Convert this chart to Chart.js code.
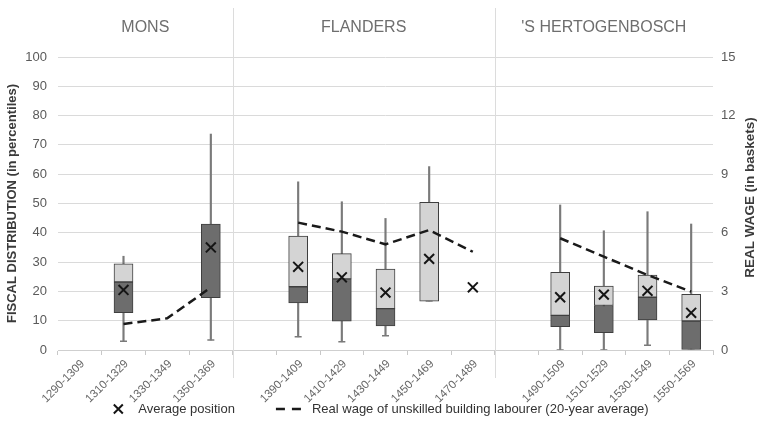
<!DOCTYPE html>
<html>
<head>
<meta charset="utf-8">
<script src="https://cdn.jsdelivr.net/npm/chart.js@4/dist/chart.umd.min.js"></script>
<style>
  html, body { margin: 0; padding: 0; background: #ffffff; }
  canvas { display: block; }
</style>
</head>
<body>
<canvas id="chart" width="761" height="437"></canvas>
<script>
// Twenty-year periods, grouped by region (empty slot opens each later region)
const periods = [
  '1290-1309', '1310-1329', '1330-1349', '1350-1369',
  '', '1390-1409', '1410-1429', '1430-1449', '1450-1469', '1470-1489',
  '', '1490-1509', '1510-1529', '1530-1549', '1550-1569'
];
const groupNames = ['MONS', 'FLANDERS', "'S HERTOGENBOSCH"];
const groupSizes = [4, 6, 5];

// Fiscal distribution of builders (percentiles)
const minPos    = [null, 3.0, null, 3.4,  null, 4.5, 2.8, 4.9, 16.7, null,  null, 0.0, 0.0, 1.6, 0.0];
const q1Pos     = [null, 12.7, null, 17.9, null, 16.1, 9.8, 8.2, 16.7, null,  null, 8.0, 5.9, 10.3, 0.0];
const medianPos = [null, 23.2, null, 43.0, null, 21.6, 24.3, 14.1, 16.7, null, null, 11.8, 15.2, 18.0, 9.9];
const q3Pos     = [null, 29.4, null, 43.0, null, 38.9, 32.9, 27.6, 50.4, null, null, 26.5, 21.8, 25.6, 19.0];
const maxPos    = [null, 32.0, null, 73.7, null, 57.4, 50.6, 44.9, 62.6, null, null, 49.5, 40.7, 47.2, 43.0];
const meanPos   = [null, 20.5, null, 35.0, null, 28.4, 24.8, 19.6, 31.1, 21.4, null, 18.0, 18.9, 20.2, 12.7];

// Real wage of unskilled building labourer, 20-year average (baskets)
const realWage  = [null, 1.33, 1.62, 3.2, null, 6.52, 6.06, 5.41, 6.14, 5.03, null, 5.72, 4.78, 3.84, 2.99];

const FONT = "'Liberation Sans', Arial, Helvetica, sans-serif";
Chart.defaults.font.family = FONT;

const lowerBox = q1Pos.map((v, i) =>
  (v == null || medianPos[i] == null || medianPos[i] === v) ? null : [v, medianPos[i]]);
const upperBox = medianPos.map((v, i) =>
  (v == null || q3Pos[i] == null || q3Pos[i] === v) ? null : [v, q3Pos[i]]);
const whiskers = minPos.map((v, i) => (v == null ? null : [v, maxPos[i]]));

const DARK_BOX = '#6d6d6d';
const LIGHT_BOX = '#d4d4d4';
const BOX_EDGE = '#3f3f3f';
const WHISKER = '#7a7a7a';

// Region separators, region titles, right-hand axis title and legend
const panelPlugin = {
  id: 'panels',
  afterDraw(chart) {
    const ctx = chart.ctx;
    const x = chart.scales.x;
    const area = chart.chartArea;
    ctx.save();

    // separators and titles
    let start = 0;
    groupNames.forEach((name, g) => {
      const end = start + groupSizes[g] - 1;
      const step = x.getPixelForValue(1) - x.getPixelForValue(0);
      const left = x.getPixelForValue(start) - step / 2;
      const right = x.getPixelForValue(end) + step / 2;
      if (g > 0) {
        ctx.strokeStyle = '#dcdcdc';
        ctx.lineWidth = 1;
        ctx.beginPath();
        ctx.moveTo(Math.round(left) + 0.5, 8);
        ctx.lineTo(Math.round(left) + 0.5, 378);
        ctx.stroke();
      }
      ctx.fillStyle = '#6e6e6e';
      ctx.font = '16px ' + FONT;
      ctx.textAlign = 'center';
      ctx.textBaseline = 'middle';
      ctx.fillText(name, (left + right) / 2, 28);
      start = end + 1;
    });

    // right axis title, reading upwards
    ctx.save();
    ctx.translate(750, (area.top + area.bottom) / 2 - 6);
    ctx.rotate(-Math.PI / 2);
    ctx.fillStyle = '#3a3a3a';
    ctx.font = 'bold 13.5px ' + FONT;
    ctx.textAlign = 'center';
    ctx.textBaseline = 'middle';
    ctx.fillText('REAL WAGE (in baskets)', 0, 0);
    ctx.restore();

    // legend
    const meanDs = chart.data.datasets.find(d => d.id === 'mean');
    const wageDs = chart.data.datasets.find(d => d.id === 'wage');
    const items = [
      { text: meanDs.label, sym: 12, gap: 14 },
      { text: wageDs.label, sym: 25, gap: 11 }
    ];
    ctx.font = '13px ' + FONT;
    const itemGap = 41;
    let total = 0;
    items.forEach((it, i) => {
      it.w = ctx.measureText(it.text).width;
      total += it.sym + it.gap + it.w + (i ? itemGap : 0);
    });
    let cx = chart.width / 2 - total / 2;
    const ly = 409;
    items.forEach((it, i) => {
      if (i) cx += itemGap;
      ctx.strokeStyle = i === 0 ? meanDs.borderColor : wageDs.borderColor;
      if (i === 0) {
        ctx.lineWidth = meanDs.pointBorderWidth;
        ctx.setLineDash([]);
        const r = 4.5;
        const mx = cx + it.sym / 2;
        ctx.beginPath();
        ctx.moveTo(mx - r, ly - r); ctx.lineTo(mx + r, ly + r);
        ctx.moveTo(mx + r, ly - r); ctx.lineTo(mx - r, ly + r);
        ctx.stroke();
      } else {
        ctx.lineWidth = wageDs.borderWidth;
        ctx.setLineDash([9, 7]);
        ctx.beginPath();
        ctx.moveTo(cx, ly); ctx.lineTo(cx + it.sym, ly);
        ctx.stroke();
        ctx.setLineDash([]);
      }
      ctx.fillStyle = '#333333';
      ctx.textAlign = 'left';
      ctx.textBaseline = 'middle';
      ctx.fillText(it.text, cx + it.sym + it.gap, ly);
      cx += it.sym + it.gap + it.w;
    });

    ctx.restore();
  }
};

new Chart(document.getElementById('chart'), {
  type: 'bar',
  data: {
    labels: periods,
    datasets: [
      {
        id: 'mean',
        type: 'line',
        label: 'Average position',
        data: meanPos,
        showLine: false,
        pointStyle: 'crossRot',
        pointRadius: 7,
        pointBorderWidth: 2,
        borderColor: '#151515',
        backgroundColor: '#151515',
        yAxisID: 'y',
        order: 0
      },
      {
        id: 'wage',
        type: 'line',
        label: 'Real wage of unskilled building labourer (20-year average)',
        data: realWage,
        borderColor: '#1a1a1a',
        borderWidth: 2.5,
        borderDash: [9, 5],
        pointRadius: 0,
        spanGaps: false,
        tension: 0,
        fill: false,
        yAxisID: 'y2',
        order: 1
      },
      {
        id: 'minCap',
        type: 'line',
        label: 'Minimum',
        data: minPos,
        showLine: false,
        pointStyle: 'line',
        pointRadius: 3.5,
        pointBorderWidth: 1.5,
        borderColor: WHISKER,
        yAxisID: 'y',
        order: 2
      },
      {
        label: 'Median to third quartile',
        data: upperBox,
        backgroundColor: LIGHT_BOX,
        borderColor: BOX_EDGE,
        borderWidth: 1,
        borderSkipped: false,
        barThickness: 19,
        grouped: false,
        yAxisID: 'y',
        order: 3
      },
      {
        label: 'First quartile to median',
        data: lowerBox,
        backgroundColor: DARK_BOX,
        borderColor: BOX_EDGE,
        borderWidth: 1,
        borderSkipped: false,
        barThickness: 19,
        grouped: false,
        yAxisID: 'y',
        order: 3
      },
      {
        label: 'Range',
        data: whiskers,
        backgroundColor: WHISKER,
        borderWidth: 0,
        barThickness: 1.5,
        grouped: false,
        yAxisID: 'y',
        order: 4
      }
    ]
  },
  options: {
    responsive: false,
    animation: false,
    devicePixelRatio: 1,
    layout: { padding: { top: 57, bottom: 27, left: 0, right: 0 } },
    plugins: {
      legend: { display: false },
      tooltip: { enabled: false }
    },
    scales: {
      x: {
        offset: true,
        grid: {
          offset: true,
          drawOnChartArea: false,
          drawTicks: true,
          tickLength: 5,
          color: '#c8c8c8'
        },
        border: { display: true, color: '#cfcfcf' },
        ticks: {
          autoSkip: false,
          minRotation: 45,
          maxRotation: 45,
          padding: 2,
          labelOffset: 3,
          color: '#666666',
          font: { size: 11.5 }
        },
        afterFit(scale) { scale.height = 60; }
      },
      y: {
        position: 'left',
        min: 0,
        max: 100,
        ticks: { stepSize: 10, padding: 11, color: '#5a5a5a', font: { size: 13 } },
        grid: { color: '#dadada', lineWidth: 1, drawTicks: false },
        border: { display: false },
        title: {
          display: true,
          text: 'FISCAL DISTRIBUTION (in percentiles)',
          color: '#3a3a3a',
          font: { size: 13, weight: 'bold' },
          padding: { top: 5, bottom: 0 }
        },
        afterFit(scale) { scale.width = 58; }
      },
      y2: {
        position: 'right',
        min: 0,
        max: 15,
        ticks: { stepSize: 3, padding: 8, color: '#5a5a5a', font: { size: 13 } },
        grid: { display: false, drawTicks: false },
        border: { display: false },
        afterFit(scale) { scale.width = 48; }
      }
    }
  },
  plugins: [panelPlugin]
});
</script>
</body>
</html>
